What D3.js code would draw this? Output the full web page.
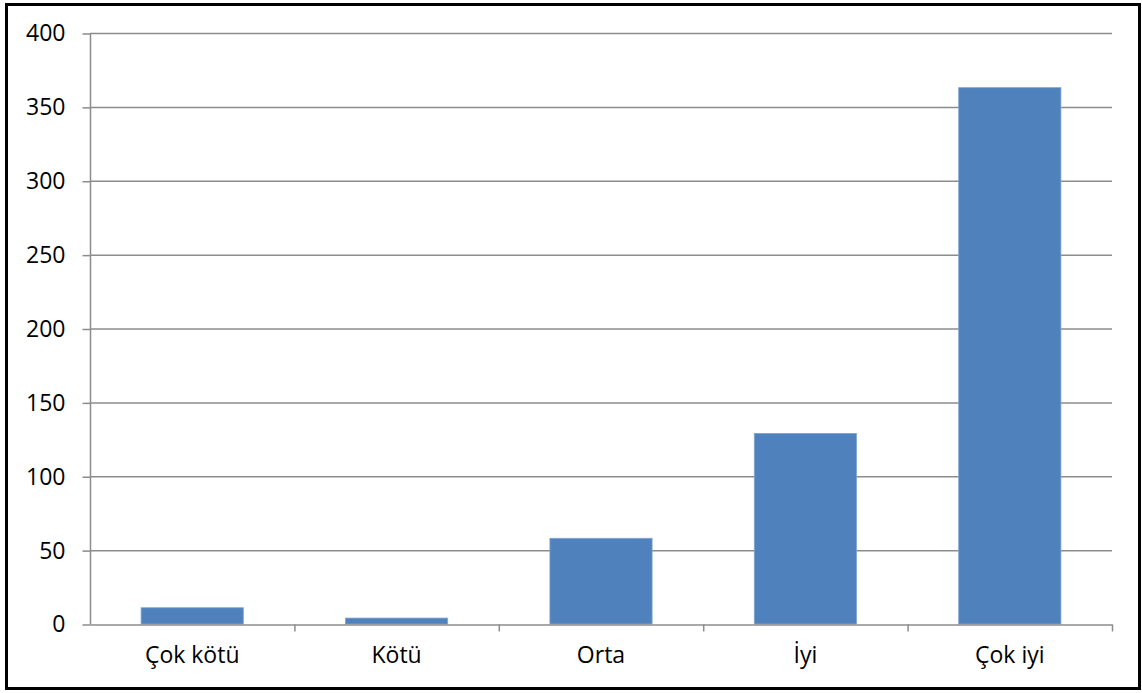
<!DOCTYPE html>
<html>
<head>
<meta charset="utf-8">
<script src="https://cdn.jsdelivr.net/npm/d3@7"></script>
<style>
	body { margin: 0; background: #fff; }
	svg { display: block; font-family: "Open Sans", "Liberation Sans", sans-serif; }
</style>
</head>
<body>
<script>
	const categories = ['Çok kötü', 'Kötü', 'Orta', 'İyi', 'Çok iyi'];
	const values = [11, 4, 58, 129, 363];
	const yTicks = [0, 50, 100, 150, 200, 250, 300, 350, 400];

	const W = 1142, H = 693;
	const margin = { top: 33, right: 30, bottom: 69, left: 90 };
	const width = 1112 - margin.left;
	const height = 624 - margin.top;

	const root = d3.select('body')
		.append('svg')
		.attr('width', W)
		.attr('height', H);

	// outer frame
	root.append('rect')
		.attr('x', 6.5)
		.attr('y', 4.5)
		.attr('width', 1133)
		.attr('height', 684)
		.attr('fill', 'none')
		.attr('stroke', '#000')
		.attr('stroke-width', 3);

	const svg = root.append('g')
		.attr('transform', `translate(${margin.left}, ${margin.top})`);

	const xScale = d3.scaleBand()
		.domain(categories)
		.range([0, width])
		.paddingInner(0.5)
		.paddingOuter(0.25);

	const xGroups = d3.scaleBand()
		.domain(categories)
		.range([0, width]);

	const yScale = d3.scaleLinear()
		.domain([0, 400])
		.range([height, 0]);

	// gridlines
	svg.append('g')
		.attr('class', 'grid')
		.selectAll('line')
		.data(yTicks.filter(d => d > 0))
		.enter().append('line')
		.attr('x1', 0)
		.attr('x2', width)
		.attr('y1', d => yScale(d) + 0.5)
		.attr('y2', d => yScale(d) + 0.5)
		.attr('stroke', '#8c8c8c')
		.attr('stroke-width', 1.5);

	// bars
	svg.selectAll('.bar')
		.data(values)
		.enter().append('rect')
		.attr('class', 'bar')
		.attr('x', (d, i) => xScale(categories[i]))
		.attr('y', d => yScale(d))
		.attr('width', xScale.bandwidth())
		.attr('height', d => height - yScale(d))
		.attr('fill', '#4f81bd')
		.attr('stroke', '#7fa3d0')
		.attr('stroke-width', 0.8);

	// y axis
	const yAxis = d3.axisLeft(yScale)
		.tickValues(yTicks)
		.tickSize(8)
		.tickPadding(17);

	const yG = svg.append('g')
		.attr('class', 'y-axis')
		.attr('transform', 'translate(0.5, 0.5)')
		.call(yAxis);

	// x axis with ticks at category boundaries
	const xAxis = d3.axisBottom(xGroups)
		.tickSize(0)
		.tickPadding(22);

	const xG = svg.append('g')
		.attr('class', 'x-axis')
		.attr('transform', `translate(0, ${height + 0.5})`)
		.call(xAxis);

	xG.selectAll('.bound')
		.data(categories)
		.enter().append('line')
		.attr('class', 'bound')
		.attr('x1', d => xGroups(d) + xGroups.bandwidth() + 0.5)
		.attr('x2', d => xGroups(d) + xGroups.bandwidth() + 0.5)
		.attr('y1', 0)
		.attr('y2', 7)
		.attr('stroke', '#8c8c8c')
		.attr('stroke-width', 1.5);

	[yG, xG].forEach(g => {
		g.select('.domain').attr('stroke', '#8c8c8c').attr('stroke-width', 1.5);
		g.selectAll('.tick line').attr('stroke', '#8c8c8c').attr('stroke-width', 1.5);
		g.selectAll('.tick text')
			.attr('fill', '#000')
			.style('font-size', '23px')
			.style('font-family', '"Open Sans", "Liberation Sans", sans-serif');
	});
	yG.select('.domain').attr('d', `M0,0V${height}`);
</script>
</body>
</html>
